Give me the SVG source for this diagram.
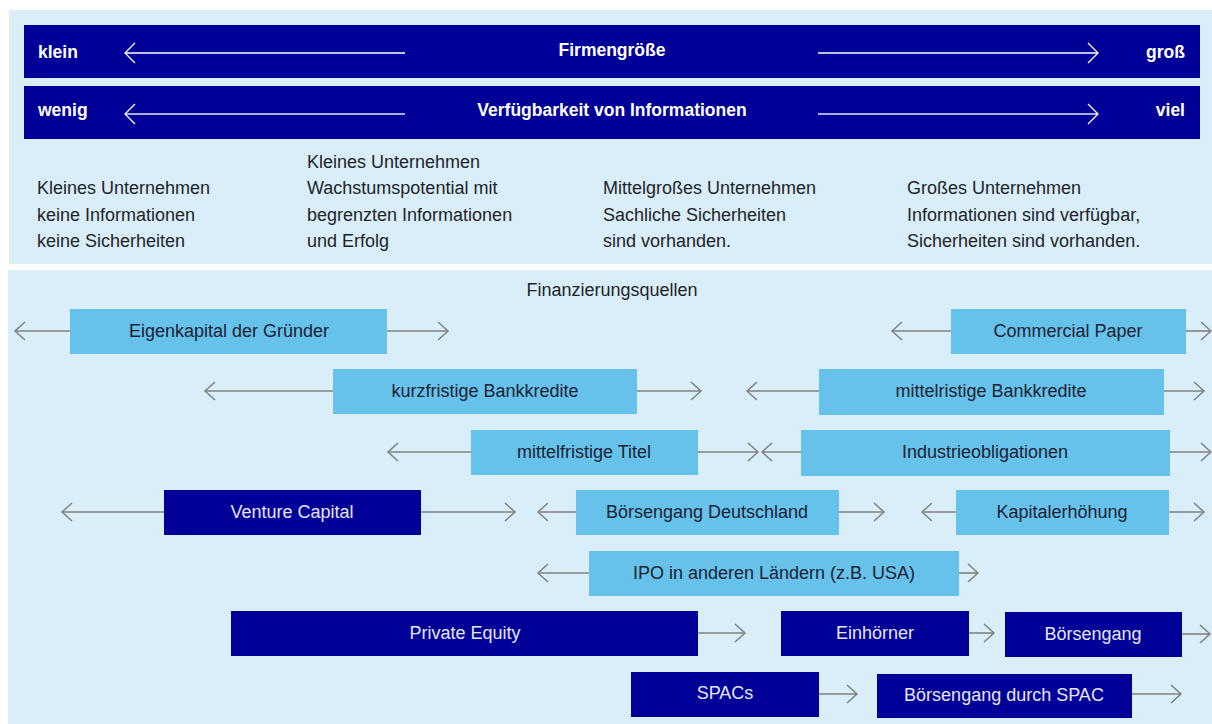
<svg xmlns="http://www.w3.org/2000/svg" width="1212" height="724" viewBox="0 0 1212 724">
<defs>
<style>
.panel{fill:#d9eef9}
.bar{fill:#000099}
.bt{font-family:"Liberation Sans",Arial,sans-serif;font-size:17.5px;font-weight:bold;fill:#ffffff}
.tx{font-family:"Liberation Sans",Arial,sans-serif;font-size:18px;fill:#222428}
.lb rect{fill:#66c1eb}
.lb text{font-family:"Liberation Sans",Arial,sans-serif;font-size:18px;fill:#1a2232;text-anchor:middle}
.db rect{fill:#000099}
.db text{font-family:"Liberation Sans",Arial,sans-serif;font-size:18px;fill:#e6e6f6;text-anchor:middle}
.c{stroke:#808080;stroke-width:1.6;fill:none;marker-end:url(#ah)}
.w{stroke:#ffffff;stroke-width:1.5;fill:none;marker-end:url(#wh)}
.v{stroke:#aaaadd;stroke-width:2;fill:none;marker-end:url(#wh)}
</style>
<marker id="ah" markerUnits="userSpaceOnUse" markerWidth="14" markerHeight="22" viewBox="-12 -11 14 22" refX="0" refY="0" orient="auto">
<path d="M-10,-9 L0,0 L-10,9" fill="none" stroke="#808080" stroke-width="1.5"/>
</marker>
<marker id="wh" markerUnits="userSpaceOnUse" markerWidth="14" markerHeight="24" viewBox="-12 -12 14 24" refX="0" refY="0" orient="auto">
<path d="M-10,-10 L0,0 L-10,10" fill="none" stroke="#ffffff" stroke-width="1.3"/>
</marker>
</defs>
<rect width="1212" height="724" fill="#ffffff"/>
<rect class="panel" x="9" y="10" width="1203" height="254"/>
<rect class="panel" x="8" y="270" width="1204" height="454"/>

<g id="bar-firmengroesse">
<rect class="bar" x="24" y="25" width="1176" height="53"/>
<text class="bt" x="38" y="58">klein</text>
<text class="bt" x="612" y="56" text-anchor="middle">Firmengröße</text>
<text class="bt" x="1185" y="58" text-anchor="end">groß</text>
<line class="w" x1="405" y1="53" x2="125" y2="53"/>
<line class="w" x1="818" y1="53" x2="1098" y2="53"/>
</g>
<g id="bar-informationen">
<rect class="bar" x="24" y="86" width="1176" height="53"/>
<text class="bt" x="38" y="116">wenig</text>
<text class="bt" x="612" y="116" text-anchor="middle">Verfügbarkeit von Informationen</text>
<text class="bt" x="1185" y="116" text-anchor="end">viel</text>
<line class="v" x1="405" y1="114" x2="125" y2="114"/>
<line class="v" x1="818" y1="114" x2="1098" y2="114"/>
</g>

<g id="descriptions">
<text class="tx" x="37" y="194">Kleines Unternehmen</text>
<text class="tx" x="37" y="221">keine Informationen</text>
<text class="tx" x="37" y="247">keine Sicherheiten</text>
<text class="tx" x="307" y="168">Kleines Unternehmen</text>
<text class="tx" x="307" y="194">Wachstumspotential mit</text>
<text class="tx" x="307" y="221">begrenzten Informationen</text>
<text class="tx" x="307" y="247">und Erfolg</text>
<text class="tx" x="603" y="194">Mittelgroßes Unternehmen</text>
<text class="tx" x="603" y="221">Sachliche Sicherheiten</text>
<text class="tx" x="603" y="247">sind vorhanden.</text>
<text class="tx" x="907" y="194">Großes Unternehmen</text>
<text class="tx" x="907" y="221">Informationen sind verfügbar,</text>
<text class="tx" x="907" y="247">Sicherheiten sind vorhanden.</text>
<text class="tx" x="612" y="296" text-anchor="middle">Finanzierungsquellen</text>
</g>

<g id="connectors">
<line class="c" x1="70" y1="331" x2="15" y2="331"/>
<line class="c" x1="387" y1="331" x2="448" y2="331"/>
<line class="c" x1="951" y1="331" x2="892" y2="331"/>
<line class="c" x1="1186" y1="331" x2="1211" y2="331"/>
<line class="c" x1="333" y1="391" x2="205" y2="391"/>
<line class="c" x1="637" y1="391" x2="701" y2="391"/>
<line class="c" x1="819" y1="391" x2="747" y2="391"/>
<line class="c" x1="1164" y1="391" x2="1204" y2="391"/>
<line class="c" x1="471" y1="452" x2="388" y2="452"/>
<line class="c" x1="698" y1="452" x2="758" y2="452"/>
<line class="c" x1="801" y1="452" x2="762" y2="452"/>
<line class="c" x1="1170" y1="452" x2="1211" y2="452"/>
<line class="c" x1="164" y1="512" x2="62" y2="512"/>
<line class="c" x1="421" y1="512" x2="515" y2="512"/>
<line class="c" x1="576" y1="512" x2="538" y2="512"/>
<line class="c" x1="839" y1="512" x2="884" y2="512"/>
<line class="c" x1="956" y1="512" x2="922" y2="512"/>
<line class="c" x1="1169" y1="512" x2="1204" y2="512"/>
<line class="c" x1="589" y1="573" x2="538" y2="573"/>
<line class="c" x1="959" y1="573" x2="978" y2="573"/>
<line class="c" x1="698" y1="633" x2="745" y2="633"/>
<line class="c" x1="969" y1="633" x2="994" y2="633"/>
<line class="c" x1="1182" y1="634" x2="1210" y2="634"/>
<line class="c" x1="819" y1="694" x2="857" y2="694"/>
<line class="c" x1="1132" y1="694" x2="1181" y2="694"/>
</g>

<g id="eigenkapital" class="lb"><rect x="70" y="309" width="317" height="45"/><text x="229" y="337">Eigenkapital der Gründer</text></g>
<g id="commercial-paper" class="lb"><rect x="951" y="309" width="235" height="45"/><text x="1068" y="337">Commercial Paper</text></g>
<g id="kurzfristige-bankkredite" class="lb"><rect x="333" y="369" width="304" height="45"/><text x="485" y="397">kurzfristige Bankkredite</text></g>
<g id="mittelristige-bankkredite" class="lb"><rect x="819" y="369" width="345" height="46"/><text x="991" y="397">mittelristige Bankkredite</text></g>
<g id="mittelfristige-titel" class="lb"><rect x="471" y="430" width="227" height="45"/><text x="584" y="458">mittelfristige Titel</text></g>
<g id="industrieobligationen" class="lb"><rect x="801" y="430" width="369" height="46"/><text x="985" y="458">Industrieobligationen</text></g>
<g id="venture-capital" class="db"><rect x="164" y="490" width="257" height="45"/><text x="292" y="518">Venture Capital</text></g>
<g id="boersengang-deutschland" class="lb"><rect x="576" y="490" width="263" height="45"/><text x="707" y="518">Börsengang Deutschland</text></g>
<g id="kapitalerhoehung" class="lb"><rect x="956" y="490" width="213" height="45"/><text x="1062" y="518">Kapitalerhöhung</text></g>
<g id="ipo" class="lb"><rect x="589" y="551" width="370" height="45"/><text x="774" y="579">IPO in anderen Ländern (z.B. USA)</text></g>
<g id="private-equity" class="db"><rect x="231" y="611" width="467" height="45"/><text x="465" y="639">Private Equity</text></g>
<g id="einhoerner" class="db"><rect x="781" y="611" width="188" height="45"/><text x="875" y="639">Einhörner</text></g>
<g id="boersengang" class="db"><rect x="1005" y="612" width="177" height="45"/><text x="1093" y="640">Börsengang</text></g>
<g id="spacs" class="db"><rect x="631" y="672" width="188" height="45"/><text x="725" y="699">SPACs</text></g>
<g id="boersengang-spac" class="db"><rect x="877" y="674" width="255" height="44"/><text x="1004" y="701">Börsengang durch SPAC</text></g>
</svg>
